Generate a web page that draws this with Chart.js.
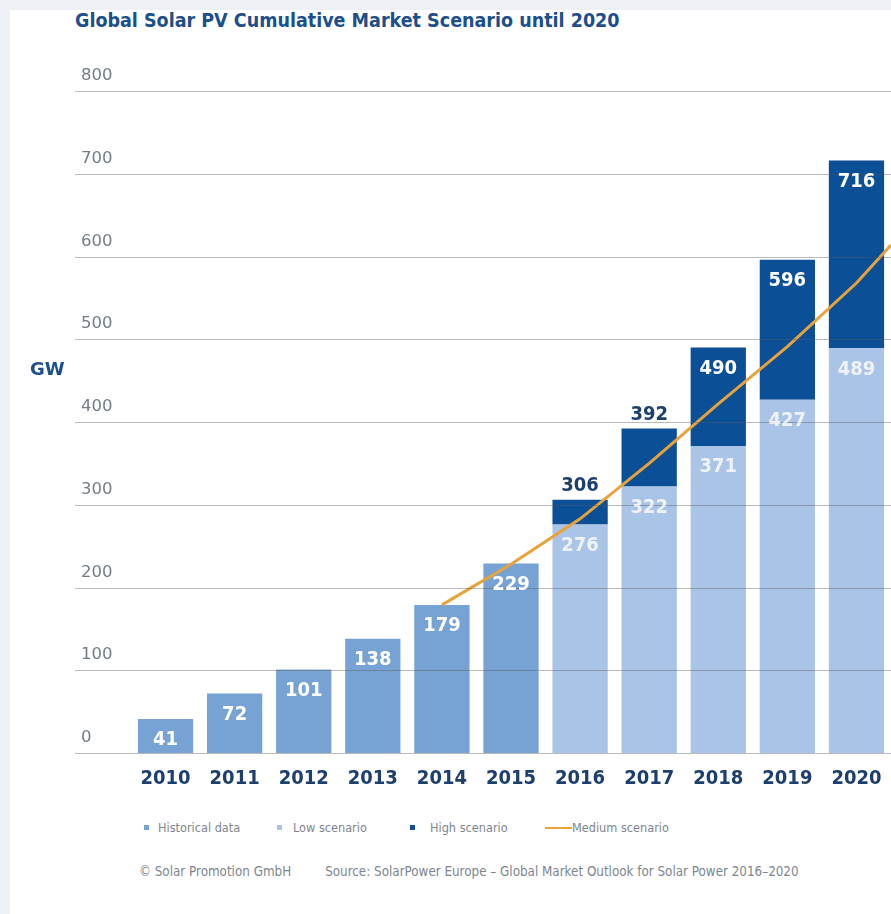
<!DOCTYPE html>
<html>
<head>
<meta charset="utf-8">
<script src="https://cdn.jsdelivr.net/npm/chart.js@4/dist/chart.umd.min.js"></script>
<style>
  html, body { margin: 0; padding: 0; }
  body { width: 891px; height: 914px; background: #edf1f5; position: relative; overflow: hidden; font-family: "DejaVu Sans Condensed", "DejaVu Sans", sans-serif; }
  #panel { position: absolute; left: 10px; top: 10px; right: 0; bottom: 0; background: #fff; }
  #chart-wrap { position: absolute; left: 0; top: 0; width: 891px; height: 800px; }
  #title { position: absolute; left: 75px; top: 9px; font-size: 19.5px; font-weight: bold; color: #1c4f8b; white-space: nowrap; }
  .legend-item { position: absolute; top: 820px; font-size: 12.6px; line-height: 16px; color: #7d8690; white-space: nowrap; }
  .legend-item i { position: absolute; top: 5px; width: 5px; height: 5px; }
  .legend-item i.line { top: 7px; width: 27px; height: 2px; }
  #footer { position: absolute; left: 139px; top: 864px; font-size: 13.3px; color: #7d8690; white-space: nowrap; }
  #footer span { margin-right: 34px; }
</style>
</head>
<body>
<div id="panel"></div>
<div id="title">Global Solar PV Cumulative Market Scenario until 2020</div>
<div id="chart-wrap"><canvas id="solar-chart"></canvas></div>
<div class="legend-item" style="left:158px"><i style="left:-14px;background:#76a3d3"></i>Historical data</div>
<div class="legend-item" style="left:293px"><i style="left:-16px;background:#a9c4e7"></i>Low scenario</div>
<div class="legend-item" style="left:430px"><i style="left:-20px;background:#0b4f97"></i>High scenario</div>
<div class="legend-item" style="left:572px"><i class="line" style="left:-27px;background:#e8a23a"></i>Medium scenario</div>
<div id="footer"><span>© Solar Promotion GmbH</span>Source: SolarPower Europe – Global Market Outlook for Solar Power 2016–2020</div>

<script>
const years = ['2010', '2011', '2012', '2013', '2014', '2015', '2016', '2017', '2018', '2019', '2020'];
const historical = [41, 72, 101, 138, 179, 229, null, null, null, null, null];
const lowScenario = [null, null, null, null, null, null, 276, 322, 371, 427, 489];
const highScenario = [null, null, null, null, null, null, 306, 392, 490, 596, 716];
const mediumYears = [2014, 2015, 2016, 2017, 2018, 2019, 2020, 2020.5];
const mediumValues = [179, 228, 283, 350, 422, 491, 568, 614];
const yTicks = [0, 100, 200, 300, 400, 500, 600, 700, 800];

const colors = {
  historical: '#76a3d3',
  low: '#a9c4e7',
  high: '#0b4f97',
  medium: '#e8a23a',
  navy: '#1c3f6e',
  grid: 'rgba(90, 90, 90, 0.42)',
  tick: '#737d88',
};

// grid lines + tick labels sit on top of the lines, starting left of the plot
const gridPlugin = {
  id: 'gridLabels',
  afterDatasetsDraw(chart) {
    const { ctx, scales: { y } } = chart;
    ctx.save();
    ctx.strokeStyle = colors.grid;
    ctx.lineWidth = 1;
    ctx.fillStyle = colors.tick;
    ctx.font = '16.5px "DejaVu Sans"';
    ctx.textBaseline = 'bottom';
    yTicks.forEach((v) => {
      const py = Math.round(y.getPixelForValue(v)) + 0.5;
      ctx.beginPath();
      ctx.moveTo(75, py);
      ctx.lineTo(chart.width, py);
      ctx.stroke();
      ctx.fillText(String(v), 81, py - 8);
    });
    ctx.fillStyle = '#1c4f8b';
    ctx.font = 'bold 18px "DejaVu Sans"';
    ctx.textBaseline = 'middle';
    ctx.fillText('GW', 30, y.getPixelForValue(462));
    ctx.restore();
  },
};

const valueLabelPlugin = {
  id: 'valueLabels',
  afterDatasetsDraw(chart) {
    const { ctx } = chart;
    const sources = [historical, lowScenario, highScenario];
    ctx.save();
    ctx.font = 'bold 20px "DejaVu Sans Condensed"';
    ctx.textAlign = 'center';
    ctx.textBaseline = 'middle';
    [1, 2, 3].forEach((dsIndex, k) => {
      const meta = chart.getDatasetMeta(dsIndex);
      meta.data.forEach((bar, i) => {
        const value = sources[k][i];
        if (value == null) return;
        const props = bar.getProps(['x', 'y', 'base'], true);
        const segment = Math.abs(props.base - props.y);
        if (k === 2 && segment < 60) {
          ctx.fillStyle = colors.navy;
          ctx.fillText(String(value), props.x, props.y - 14);
        } else {
          ctx.fillStyle = k === 1 ? 'rgba(255, 255, 255, 0.8)' : '#ffffff';
          ctx.fillText(String(value), props.x, props.y + 21);
        }
      });
    });
    ctx.restore();
  },
};

function createSolarChart() {
  const ctx = document.getElementById('solar-chart').getContext('2d');
  return new Chart(ctx, {
    data: {
      labels: years,
      datasets: [
        {
          type: 'line',
          label: 'Medium scenario',
          xAxisID: 'xm',
          data: mediumYears.map((yr, i) => ({ x: yr, y: mediumValues[i] })),
          borderColor: colors.medium,
          borderWidth: 3,
          pointRadius: 0,
          tension: 0,
          fill: false,
        },
        {
          type: 'bar',
          label: 'Historical data',
          data: historical,
          backgroundColor: colors.historical,
          grouped: false,
        },
        {
          type: 'bar',
          label: 'Low scenario',
          data: lowScenario,
          backgroundColor: colors.low,
          grouped: false,
        },
        {
          type: 'bar',
          label: 'High scenario',
          data: highScenario.map((v, i) => (v == null ? null : [lowScenario[i], v])),
          backgroundColor: colors.high,
          grouped: false,
        },
      ],
    },
    options: {
      responsive: true,
      maintainAspectRatio: false,
      animation: false,
      layout: { padding: { left: 131, top: 91, right: 0, bottom: 0 } },
      datasets: { bar: { categoryPercentage: 1, barPercentage: 0.8 } },
      plugins: { legend: { display: false }, tooltip: { enabled: false } },
      scales: {
        x: {
          type: 'category',
          grid: { display: false, drawTicks: false },
          border: { display: false },
          ticks: {
            padding: 14,
            color: colors.navy,
            font: { family: '"DejaVu Sans Condensed"', size: 20, weight: 'bold' },
          },
          afterFit: (scale) => {
            scale.height = 47;
            scale.paddingLeft = 0;
            scale.paddingRight = 0;
          },
        },
        xm: {
          type: 'linear',
          display: false,
          min: 2009.5,
          max: 2020.5,
        },
        y: {
          display: false,
          min: 0,
          max: 800,
        },
      },
    },
    plugins: [gridPlugin, valueLabelPlugin],
  });
}

document.addEventListener('DOMContentLoaded', () => {
  createSolarChart();
});
</script>
</body>
</html>
